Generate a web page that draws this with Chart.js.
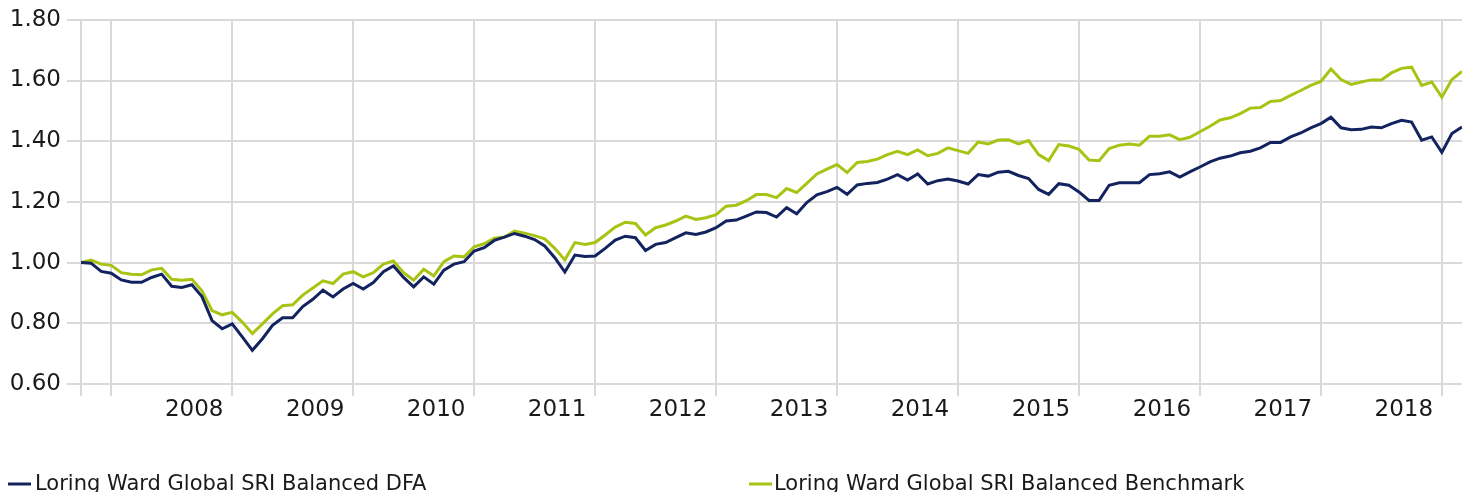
<!DOCTYPE html>
<html>
<head>
<meta charset="utf-8">
<script src="https://cdn.jsdelivr.net/npm/chart.js@4/dist/chart.umd.min.js"></script>
<style>
  html, body { margin: 0; padding: 0; background: #ffffff; }
  #wrap { width: 1462px; height: 492px; }
</style>
</head>
<body>
<div id="wrap"><canvas id="c" width="1462" height="492"></canvas></div>
<script>
// ---- Data ----
// Month-end observations, Sep 2007 .. Feb 2019
const startYear = 2007, startMonth = 9, monthCount = 138;
const months = [];
for (let k = 0; k < monthCount; k++) {
  const m = (startMonth - 1 + k) % 12 + 1;
  const y = startYear + Math.floor((startMonth - 1 + k) / 12);
  months.push(y + '-' + String(m).padStart(2, '0'));
}

const seriesNames = [
  'Loring Ward Global SRI Balanced DFA',
  'Loring Ward Global SRI Balanced Benchmark'
];

const dfa = [
  1.000, 0.998, 0.971, 0.965, 0.943, 0.935, 0.935, 0.951, 0.962, 0.922,
  0.918, 0.927, 0.888, 0.809, 0.782, 0.798, 0.755, 0.711, 0.749, 0.793,
  0.818, 0.818, 0.855, 0.879, 0.909, 0.887, 0.913, 0.931, 0.913, 0.934,
  0.970, 0.989, 0.951, 0.920, 0.953, 0.929, 0.975, 0.995, 1.003, 1.038,
  1.049, 1.073, 1.084, 1.096, 1.087, 1.076, 1.055, 1.016, 0.969, 1.025,
  1.020, 1.022, 1.047, 1.074, 1.087, 1.082, 1.040, 1.060, 1.066, 1.082,
  1.098, 1.093, 1.101, 1.115, 1.137, 1.140, 1.153, 1.167, 1.165, 1.150,
  1.181, 1.161, 1.198, 1.223, 1.234, 1.248, 1.225, 1.256, 1.261, 1.264,
  1.275, 1.290, 1.272, 1.292, 1.259, 1.270, 1.275, 1.269, 1.259, 1.290,
  1.285, 1.298, 1.301, 1.287, 1.277, 1.241, 1.225, 1.260, 1.255, 1.233,
  1.205, 1.205, 1.255, 1.263, 1.263, 1.263, 1.290, 1.293, 1.299, 1.282,
  1.299, 1.315, 1.332, 1.344, 1.351, 1.362, 1.367, 1.378, 1.396, 1.396,
  1.414, 1.427, 1.444, 1.458, 1.479, 1.444, 1.438, 1.439, 1.447, 1.444,
  1.458, 1.469, 1.463, 1.403, 1.414, 1.363, 1.425, 1.447
];

const benchmark = [
  1.000, 1.008, 0.995, 0.991, 0.967, 0.962, 0.960, 0.976, 0.981, 0.945,
  0.942, 0.945, 0.907, 0.842, 0.828, 0.836, 0.804, 0.766, 0.798, 0.831,
  0.858, 0.861, 0.893, 0.916, 0.940, 0.931, 0.962, 0.970, 0.953, 0.967,
  0.995, 1.005, 0.967, 0.942, 0.978, 0.956, 1.003, 1.022, 1.019, 1.052,
  1.062, 1.080, 1.084, 1.104, 1.097, 1.089, 1.078, 1.047, 1.009, 1.066,
  1.060, 1.066, 1.091, 1.117, 1.133, 1.129, 1.091, 1.115, 1.124, 1.137,
  1.153, 1.142, 1.148, 1.158, 1.186, 1.189, 1.204, 1.224, 1.224, 1.214,
  1.244, 1.231, 1.261, 1.292, 1.308, 1.323, 1.297, 1.330, 1.333, 1.341,
  1.356, 1.367, 1.356, 1.371, 1.352, 1.360, 1.378, 1.369, 1.360, 1.397,
  1.391, 1.404, 1.405, 1.391, 1.402, 1.356, 1.336, 1.389, 1.384, 1.373,
  1.338, 1.336, 1.376, 1.387, 1.391, 1.387, 1.416, 1.416, 1.421, 1.405,
  1.413, 1.431, 1.449, 1.470, 1.477, 1.491, 1.509, 1.511, 1.531, 1.534,
  1.551, 1.567, 1.584, 1.597, 1.638, 1.603, 1.587, 1.595, 1.602, 1.602,
  1.625, 1.640, 1.644, 1.584, 1.595, 1.545, 1.603, 1.630
];

const yearLabels = ['2008','2009','2010','2011','2012','2013','2014','2015','2016','2017','2018'];
const yTickValues = [0.6, 0.8, 1.0, 1.2, 1.4, 1.6, 1.8];
const yTickLabels = ['0.60','0.80','1.00','1.20','1.40','1.60','1.80'];

// ---- Styles ----
const COLORS = ['#13235f', '#a8c313'];
const GRID = '#d9d9d9';
const FONT = 'DejaVu Sans, Verdana, sans-serif';
const LABEL_SHIFT = 8.23; // year label offset (in months) after the Dec gridline

// gridline positions: first point plus each December month-end
const gridIdx = [0];
months.forEach((m, i) => { if (m.endsWith('-12')) gridIdx.push(i); });
const labelPos = {};
yearLabels.forEach((y) => {
  const di = months.indexOf((parseInt(y, 10) - 1) + '-12');
  if (di >= 0) labelPos[(di + LABEL_SHIFT).toFixed(3)] = y;
});
const xTickValues = gridIdx.concat(Object.keys(labelPos).map(Number)).sort((a, b) => a - b);
const isGrid = (v) => gridIdx.indexOf(v) >= 0;

const toPts = (arr) => arr.map((v, i) => ({ x: i, y: v }));

const legendPlugin = {
  id: 'bottomLegend',
  afterDraw(chart) {
    const ctx = chart.ctx;
    const items = [{ x: 8, tx: 35 }, { x: 749, tx: 774 }];
    ctx.save();
    chart.data.datasets.forEach((ds, i) => {
      const it = items[i];
      ctx.strokeStyle = ds.borderColor;
      ctx.lineWidth = 3;
      ctx.beginPath();
      ctx.moveTo(it.x, 484);
      ctx.lineTo(it.x + 23, 484);
      ctx.stroke();
      ctx.fillStyle = '#1a1a1a';
      ctx.font = '21px ' + FONT;
      ctx.textAlign = 'left';
      ctx.textBaseline = 'alphabetic';
      ctx.fillText(ds.label, it.tx, 490);
    });
    ctx.restore();
  }
};

new Chart(document.getElementById('c'), {
  type: 'line',
  data: {
    datasets: [
      { label: seriesNames[0], data: toPts(dfa), borderColor: COLORS[0], backgroundColor: COLORS[0],
        borderWidth: 3, pointRadius: 0, tension: 0, fill: false },
      { label: seriesNames[1], data: toPts(benchmark), borderColor: COLORS[1], backgroundColor: COLORS[1],
        borderWidth: 3, pointRadius: 0, tension: 0, fill: false }
    ]
  },
  options: {
    responsive: false,
    devicePixelRatio: 1,
    animation: false,
    layout: { padding: { left: 0, right: 0, top: 18, bottom: 0 } },
    plugins: { legend: { display: false }, tooltip: { enabled: false } },
    scales: {
      x: {
        type: 'linear',
        min: 0,
        max: monthCount - 1,
        border: { display: false },
        afterBuildTicks: (axis) => { axis.ticks = xTickValues.map(v => ({ value: v })); },
        afterFit: (axis) => { axis.height = 108; },
        grid: {
          color: (c) => (c.tick && isGrid(c.tick.value)) ? GRID : 'rgba(0,0,0,0)',
          tickColor: (c) => (c.tick && isGrid(c.tick.value)) ? GRID : 'rgba(0,0,0,0)',
          lineWidth: 2,
          tickLength: 12,
          drawTicks: true
        },
        ticks: {
          autoSkip: false,
          maxRotation: 0,
          minRotation: 0,
          padding: 0,
          color: '#1a1a1a',
          font: { family: FONT, size: 23 },
          callback: (v) => labelPos[Number(v).toFixed(3)] || ''
        }
      },
      y: {
        min: 0.6,
        max: 1.8,
        border: { display: false },
        afterBuildTicks: (axis) => { axis.ticks = yTickValues.map(v => ({ value: v })); },
        afterFit: (axis) => { axis.width = 81; },
        grid: { color: GRID, lineWidth: 2, tickLength: 14 },
        ticks: {
          padding: 6,
          color: '#1a1a1a',
          font: { family: FONT, size: 23 },
          callback: (v) => { const k = yTickValues.findIndex(t => Math.abs(t - v) < 1e-9); return k >= 0 ? yTickLabels[k] : ''; }
        }
      }
    }
  },
  plugins: [legendPlugin]
});
</script>
</body>
</html>
